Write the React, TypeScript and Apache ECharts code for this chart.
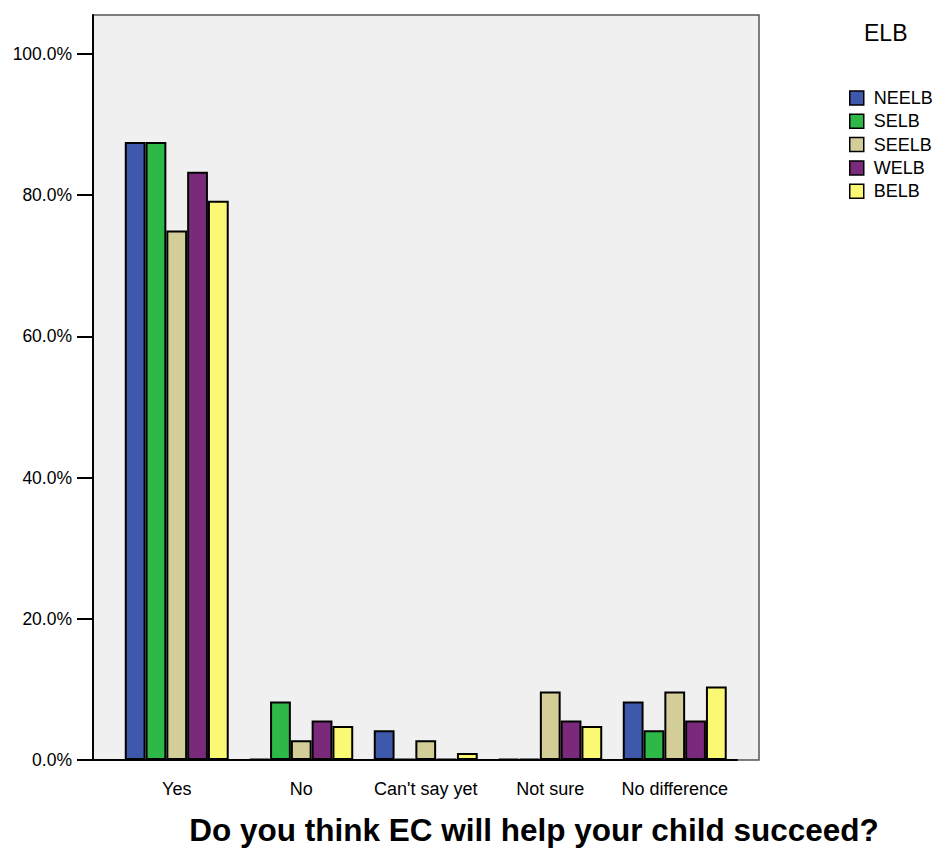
import React, { useEffect, useRef } from "react";
import * as echarts from "echarts";

const categories = ["Yes", "No", "Can't say yet", "Not sure", "No difference"];
const seriesNames = ["NEELB", "SELB", "SEELB", "WELB", "BELB"];
const colors = ["#3e58ac", "#2eb848", "#d3ce97", "#7a297b", "#fbf873"];
const neelb = [87.5, 0, 4.2, 0, 8.3];
const selb = [87.5, 8.3, 0, 0, 4.2];
const seelb = [75.0, 2.8, 2.8, 9.7, 9.7];
const welb = [83.3, 5.6, 0, 5.6, 5.6];
const belb = [79.2, 4.8, 1.0, 4.8, 10.4];
const yTicks = [0, 20, 40, 60, 80, 100];
const values = [neelb, selb, seelb, welb, belb];

const FONT = "'Liberation Sans', Arial, sans-serif";

export default function App() {
  const ref = useRef<HTMLDivElement>(null);
  useEffect(() => {
    if (!ref.current) return;
    const chart = echarts.init(ref.current, null, { renderer: "svg" });
    const yMax = 105.5;
    chart.setOption({
      animation: false,
      backgroundColor: "#ffffff",
      textStyle: { fontFamily: FONT },
      title: {
        text: "Do you think EC will help your child succeed?",
        left: 534,
        textAlign: "center",
        top: 813,
        padding: 0,
        textStyle: { fontFamily: FONT, fontSize: 31.5, lineHeight: 34, fontWeight: "bold", color: "#000" },
      },
      legend: {
        orient: "vertical",
        left: 844,
        top: 84,
        itemWidth: 14,
        itemHeight: 14,
        itemGap: 5.3,
        icon: "rect",
        itemStyle: { borderColor: "#000", borderWidth: 1.5 },
        textStyle: { fontFamily: FONT, fontSize: 18, lineHeight: 18, color: "#000", padding: [0, 0, 0, 5] },
        data: seriesNames,
      },
      graphic: [
        {
          type: "text",
          left: 864,
          top: 21,
          style: { text: "ELB", fontFamily: FONT, fontSize: 23, fill: "#000" },
        },
        {
          type: "line",
          shape: { x1: 93, y1: 760, x2: 116, y2: 760 },
          style: { stroke: "#000", lineWidth: 2 },
          z: 10,
        },
      ],
      grid: [
        {
          left: 93,
          right: 179,
          top: 15,
          bottom: 88,
          show: true,
          backgroundColor: "#f0f0f0",
          borderColor: "#555",
          borderWidth: 1.5,
        },
        { left: 114.5, right: 201, top: 15, bottom: 88 },
      ],
      xAxis: [
        { gridIndex: 0, type: "value", show: false, min: 0, max: 1 },
        {
          gridIndex: 1,
          type: "category",
          data: categories,
          axisLine: { lineStyle: { color: "#000", width: 2 } },
          axisTick: { alignWithLabel: true, length: 15, lineStyle: { color: "#000", width: 1.5 } },
          axisLabel: { interval: 0, color: "#000", fontSize: 18, fontFamily: FONT, margin: 20 },
        },
      ],
      yAxis: [
        {
          gridIndex: 0,
          type: "value",
          min: 0,
          max: yMax,
          interval: 20,
          splitLine: { show: false },
          axisLine: { show: true, lineStyle: { color: "#000", width: 2 } },
          axisTick: {
            show: true,
            length: 16,
            customValues: yTicks,
            lineStyle: { color: "#000", width: 2 },
          },
          axisLabel: {
            customValues: yTicks,
            color: "#000",
            fontSize: 17.5,
            fontFamily: FONT,
            margin: 21,
            formatter: (v: number) => v.toFixed(1) + "%",
          },
        },
        { gridIndex: 1, type: "value", min: 0, max: yMax, show: false, splitLine: { show: false } },
      ],
      series: seriesNames.map((name, i) => ({
        name,
        type: "bar",
        xAxisIndex: 1,
        yAxisIndex: 1,
        data: values[i],
        barGap: "0%",
        barCategoryGap: "16.5%",
        barMinHeight: 1,
        itemStyle: { color: colors[i], borderColor: "#000", borderWidth: 2 },
      })),
    });
    return () => chart.dispose();
  }, []);
  return (
    <div
      ref={ref}
      style={{ position: "absolute", left: 0, top: 0, width: 938, height: 848 }}
    />
  );
}
